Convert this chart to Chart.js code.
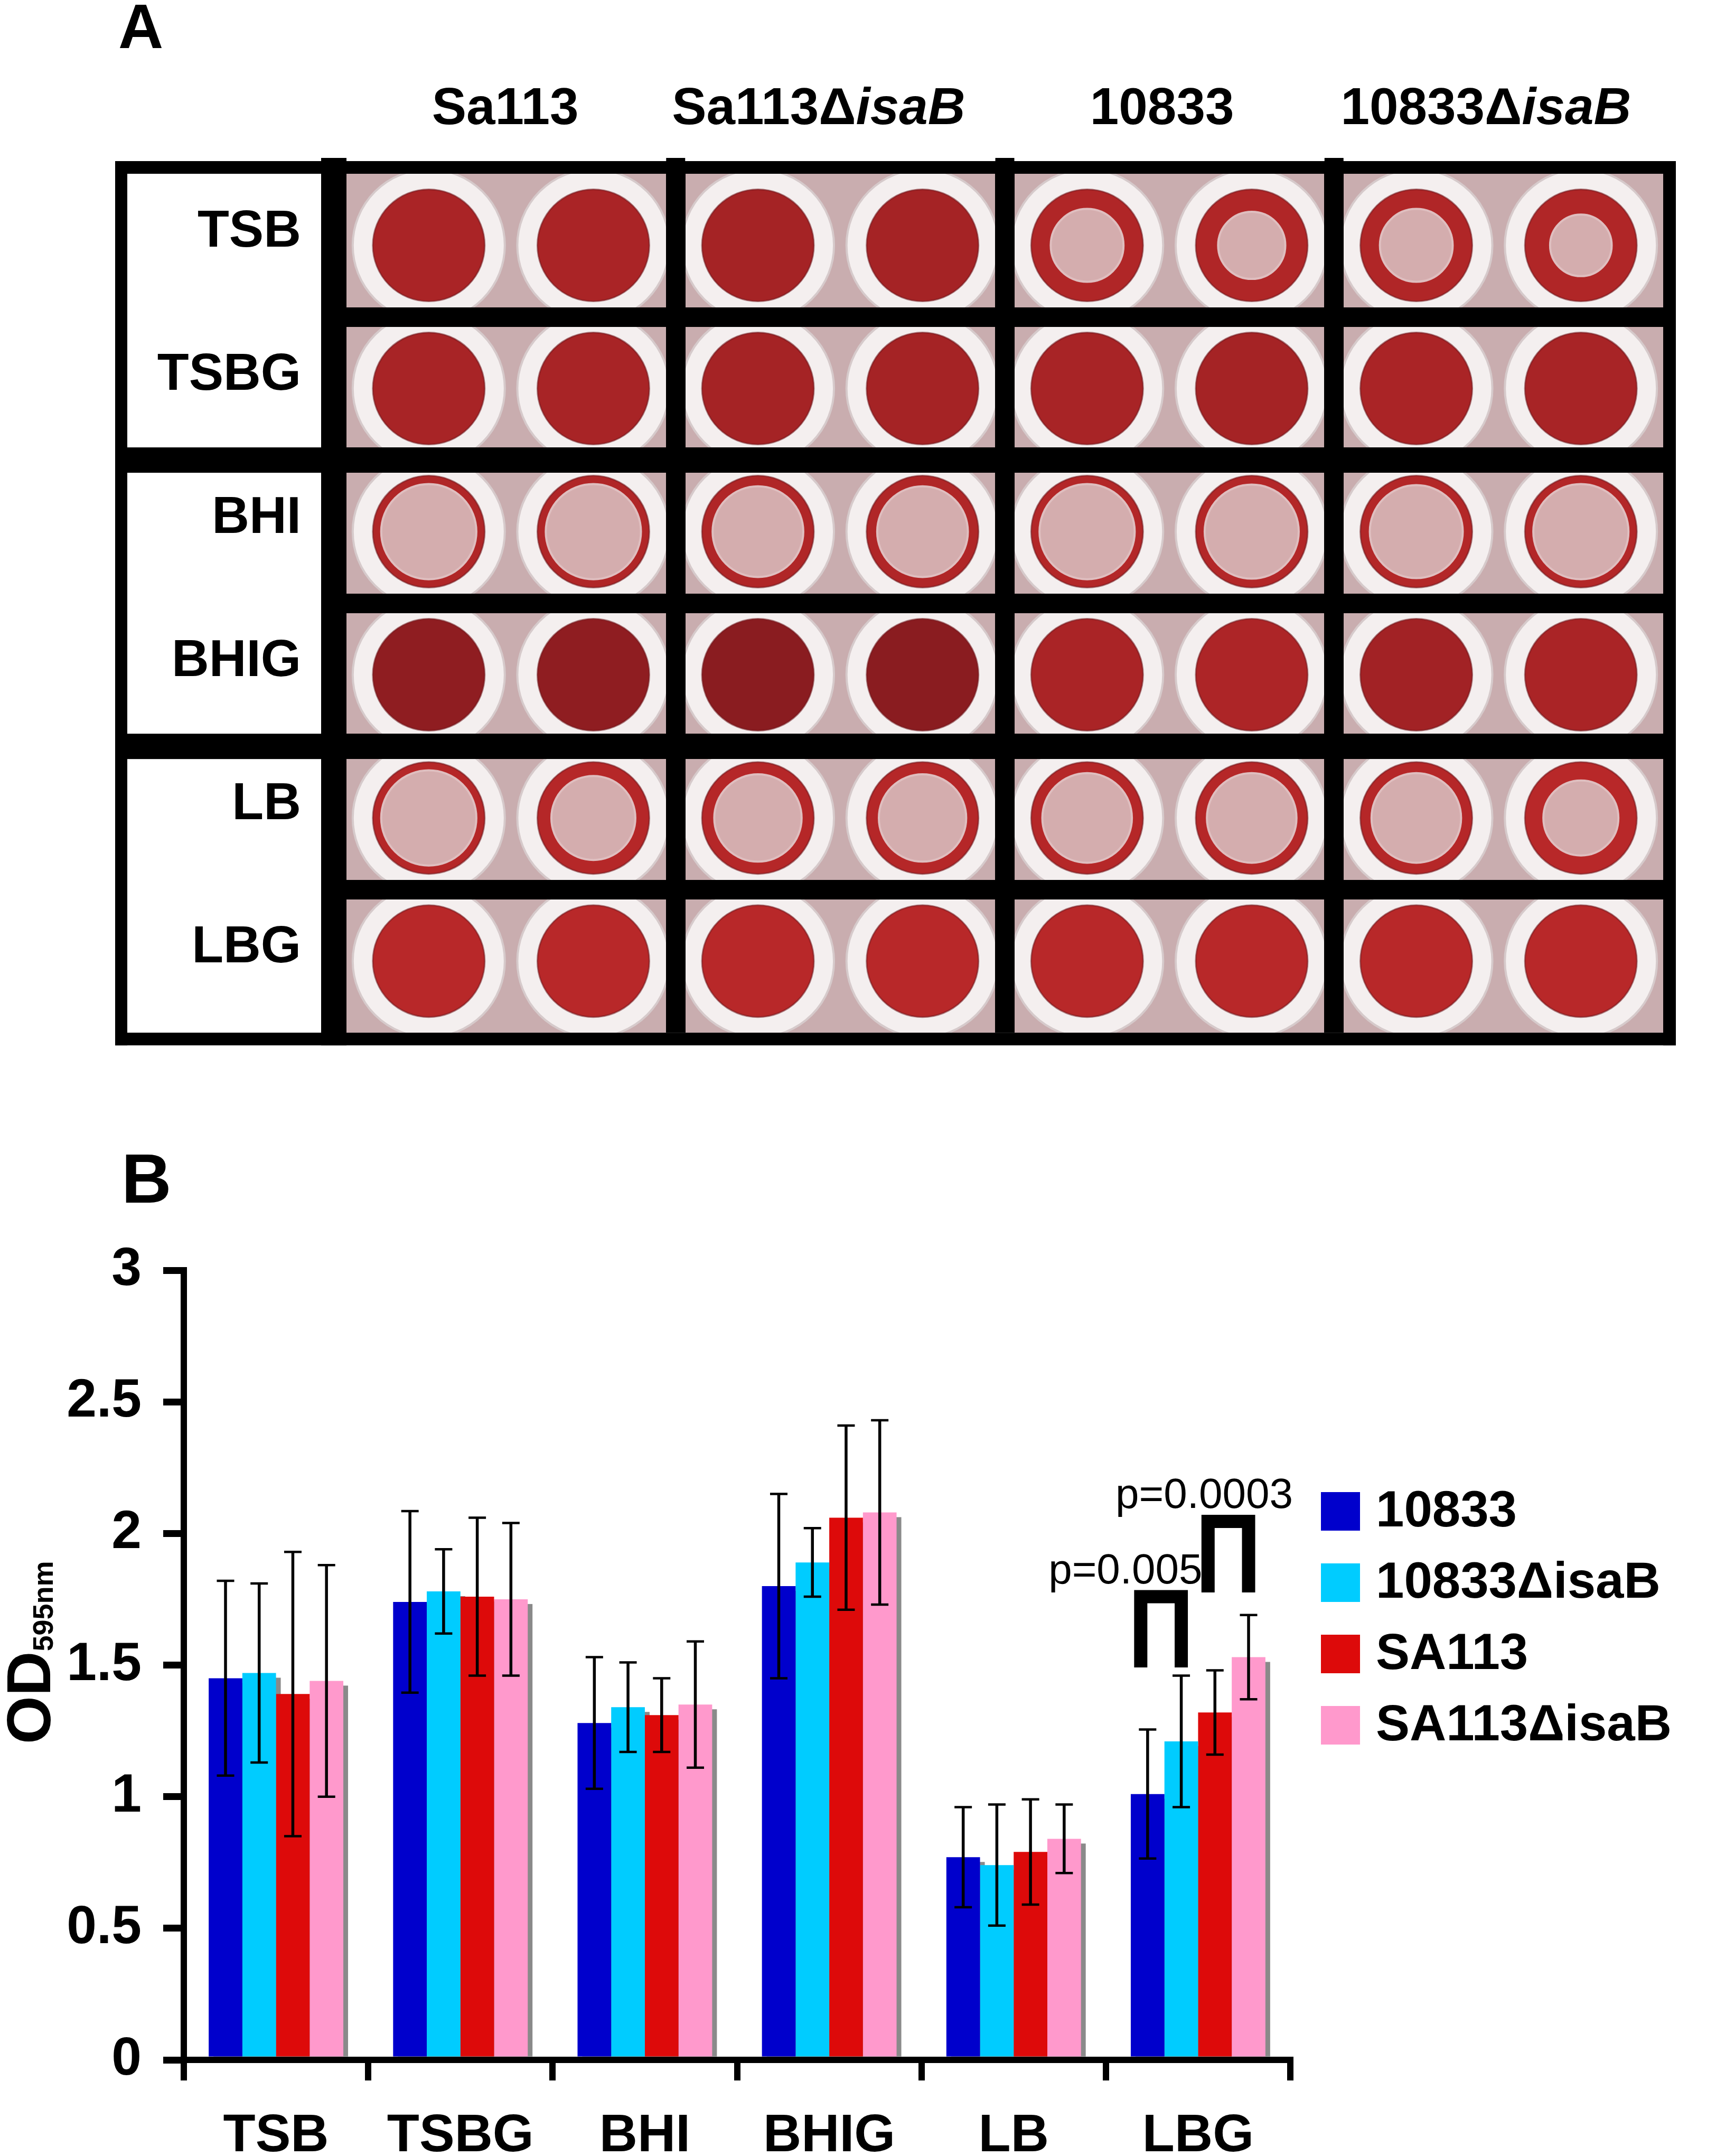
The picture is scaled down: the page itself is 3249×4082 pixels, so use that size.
<!DOCTYPE html>
<html><head><meta charset="utf-8">
<script src="https://cdn.jsdelivr.net/npm/chart.js@4.4.1/dist/chart.umd.min.js"></script>
<style>
html,body{margin:0;padding:0;background:#fff;}
body{width:3249px;height:4082px;position:relative;overflow:hidden;}
#cA{position:absolute;left:0;top:0;}
#cB{position:absolute;left:0;top:2150px;}
</style></head><body>
<canvas id="cA" width="3249" height="2100"></canvas>
<canvas id="cB" width="3249" height="1932"></canvas>
<script>
// ---------------- DATA ----------------
// Panel A: crystal-violet stained wells (2 wells per strain)
const media = ['TSB', 'TSBG', 'BHI', 'BHIG', 'LB', 'LBG'];
const strainsA = ['Sa113', 'Sa113\u0394isaB', '10833', '10833\u0394isaB'];
// fraction of the well radius covered by biofilm (1 = fully stained, small = ring only)
const coverage = [
  [1, 1, 1, 1, 0.35, 0.40, 0.35, 0.45],
  [1, 1, 1, 1, 1, 1, 1, 1],
  [0.15, 0.15, 0.19, 0.19, 0.15, 0.16, 0.17, 0.15],
  [1, 1, 1, 1, 1, 1, 1, 1],
  [0.15, 0.25, 0.22, 0.22, 0.20, 0.20, 0.20, 0.33],
  [1, 1, 1, 1, 1, 1, 1, 1]
];
// staining darkness (0 = bright red, 1 = dark red)
const darkness = [
  [0.40, 0.40, 0.50, 0.50, 0.30, 0.30, 0.30, 0.30],
  [0.45, 0.45, 0.50, 0.50, 0.45, 0.50, 0.40, 0.45],
  [0.30, 0.30, 0.30, 0.30, 0.25, 0.25, 0.25, 0.25],
  [0.90, 0.90, 1.00, 1.00, 0.40, 0.35, 0.55, 0.40],
  [0.20, 0.20, 0.20, 0.20, 0.20, 0.20, 0.20, 0.15],
  [0.15, 0.15, 0.15, 0.15, 0.15, 0.15, 0.15, 0.15]
];

// Panel B: OD595nm
const categories = ['TSB', 'TSBG', 'BHI', 'BHIG', 'LB', 'LBG'];
const seriesNames = ['10833', '10833\u0394isaB', 'SA113', 'SA113\u0394isaB'];
const od10833      = [1.45, 1.74, 1.28, 1.80, 0.77, 1.01];
const od10833isaB  = [1.47, 1.78, 1.34, 1.89, 0.74, 1.21];
const odSA113      = [1.39, 1.76, 1.31, 2.06, 0.79, 1.32];
const odSA113isaB  = [1.44, 1.75, 1.35, 2.08, 0.84, 1.53];
const sd10833      = [0.37, 0.345, 0.25, 0.35, 0.19, 0.245];
const sd10833isaB  = [0.34, 0.16, 0.17, 0.13, 0.23, 0.25];
const sdSA113      = [0.54, 0.30, 0.14, 0.35, 0.20, 0.16];
const sdSA113isaB  = [0.44, 0.29, 0.24, 0.35, 0.13, 0.16];
const yTicks = [0, 0.5, 1, 1.5, 2, 2.5, 3];
// significance brackets (LBG)
const sigCategory = 'LBG';
const sigPairs = [[0, 1], [2, 3]];
const sigLabels = ['p=0.005', 'p=0.0003'];
const sigTop = [1.76, 2.046];
const sigFoot = [1.491, 1.776];

// ---------------- STYLE ----------------
const FONT = '"Liberation Sans", Arial, Helvetica, sans-serif';
const seriesColors = ['#0000cc', '#00ccff', '#dd0a0a', '#ff99cc'];
const headerShift = [-11, -41, -14, -24];
const BRIGHT = [192, 42, 42], DARK = [138, 28, 32];
function redTone(t) {
  const c = BRIGHT.map((b, i) => Math.round(b + (DARK[i] - b) * t));
  return 'rgb(' + c.join(',') + ')';
}

// ================= PANEL A =================
function makeWells() {
  const out = [];
  media.forEach((m, r) => {
    for (let w = 0; w < 8; w++) out.push({x: w + 0.5, y: m, cov: coverage[r][w], dk: darkness[r][w]});
  });
  return out;
}
const paleR = c => (c.raw && c.raw.cov < 1) ? 106 * (1 - c.raw.cov) : 0;

const panelAPlugin = {
  id: 'panelA',
  beforeDatasetsDraw(chart) {
    const {ctx, chartArea: ca} = chart;
    ctx.save();
    ctx.fillStyle = '#c9adaf';
    ctx.fillRect(ca.left, ca.top, ca.right - ca.left, ca.bottom - ca.top);
    ctx.restore();
  },
  afterDraw(chart) {
    const {ctx, chartArea: ca} = chart;
    const ys = chart.scales.y, xs = chart.scales.x;
    ctx.save();
    ctx.fillStyle = '#000';
    const L = ca.left - 438, T = ca.top - 24, R = ca.right + 24, B = ca.bottom + 24;
    ctx.fillRect(L, T, R - L, 24);
    ctx.fillRect(L, B - 24, R - L, 24);
    ctx.fillRect(L, T, 23, B - T);
    ctx.fillRect(R - 24, T, 24, B - T);
    ctx.fillRect(ca.left - 48, T - 6, 48, B - T + 6);
    [2, 4, 6].forEach(v => {
      const x = xs.getPixelForValue(v);
      ctx.fillRect(x - 18, T - 6, 36, 6);
    });
    [2, 4].forEach(k => {
      const y = ys.getPixelForValue(k - 0.5);
      ctx.fillRect(L, y - 24, ca.left - L, 48);
    });
    // strain headers
    ctx.textBaseline = 'alphabetic';
    ctx.textAlign = 'left';
    strainsA.forEach((name, i) => {
      const cx = xs.getPixelForValue(2 * i + 1) + headerShift[i];
      const k = name.indexOf('\u0394');
      const plain = k >= 0 ? name.slice(0, k + 1) : name;
      const ital = k >= 0 ? name.slice(k + 1) : '';
      ctx.font = 'bold 98px ' + FONT;
      const w1 = ctx.measureText(plain).width;
      ctx.font = 'italic bold 98px ' + FONT;
      const w2 = ital ? ctx.measureText(ital).width : 0;
      const x0 = cx - (w1 + w2) / 2;
      ctx.font = 'bold 98px ' + FONT;
      ctx.fillText(plain, x0, 235);
      if (ital) { ctx.font = 'italic bold 98px ' + FONT; ctx.fillText(ital, x0 + w1, 235); }
    });
    ctx.font = 'bold 118px ' + FONT;
    ctx.fillText('A', 224, 91);
    ctx.restore();
  }
};

// Chart.js draws dataset 0 on top, so the list goes from the innermost layer out
new Chart(document.getElementById('cA'), {
  type: 'scatter',
  data: {
    datasets: [
      {label: 'cleared centre', data: makeWells(), clip: 0,
       pointRadius: paleR, pointHoverRadius: paleR,
       backgroundColor: '#d4adae', borderColor: '#dfbebf', borderWidth: 4},
      {label: 'biofilm stain', data: makeWells(), clip: 0, pointRadius: 106, pointHoverRadius: 106,
       backgroundColor: c => redTone(c.raw ? c.raw.dk : 0.3), borderColor: 'rgba(110,20,25,0.55)', borderWidth: 3},
      {label: 'well rim', data: makeWells(), clip: 0, pointRadius: 144, pointHoverRadius: 144,
       backgroundColor: '#f4efef', borderColor: '#d6cacb', borderWidth: 4}
    ]
  },
  options: {
    responsive: false, animation: false, devicePixelRatio: 1,
    events: [],
    layout: {autoPadding: false, padding: {top: 329, right: 100, bottom: 136, left: 0}},
    plugins: {legend: {display: false}, tooltip: {enabled: false}},
    scales: {
      x: {
        type: 'linear', position: 'top', min: 0, max: 8,
        afterBuildTicks: s => { s.ticks = [0,1,2,3,4,5,6,7,8].map(v => ({value: v})); },
        afterFit: s => { s.height = 0; },
        ticks: {display: false},
        border: {display: false},
        grid: {
          z: 1, drawTicks: false, lineWidth: 37,
          color: c => (c.tick && [2, 4, 6].includes(c.tick.value)) ? '#000' : 'rgba(0,0,0,0)'
        }
      },
      y: {
        type: 'category', labels: media, offset: true, position: 'left',
        afterFit: s => { s.width = 656; },
        border: {display: false},
        ticks: {color: '#000', font: {family: FONT, size: 98, weight: 'bold'}, padding: 86, labelOffset: -25},
        grid: {
          z: 1, offset: true, drawTicks: false,
          lineWidth: c => (c.index === 2 || c.index === 4) ? 48 : 37,
          color: c => (c.index >= 1 && c.index <= 5) ? '#000' : 'rgba(0,0,0,0)'
        }
      }
    }
  },
  plugins: [panelAPlugin]
});

// ================= PANEL B =================
const means = [od10833, od10833isaB, odSA113, odSA113isaB];
const sds = [sd10833, sd10833isaB, sdSA113, sdSA113isaB];

const panelBPlugin = {
  id: 'panelB',
  beforeDatasetsDraw(chart) {
    const ctx = chart.ctx;
    ctx.save();
    ctx.fillStyle = '#8a8a8a';
    chart.data.datasets.forEach((ds, i) => {
      chart.getDatasetMeta(i).data.forEach(bar => {
        const p = bar.getProps(['x', 'y', 'width', 'base'], true);
        const top = p.y + 9;
        if (top < p.base) ctx.fillRect(p.x - p.width / 2 + 9, top, p.width, p.base - top);
      });
    });
    ctx.restore();
  },
  afterDatasetsDraw(chart) {
    const ctx = chart.ctx, ys = chart.scales.y;
    ctx.save();
    ctx.strokeStyle = '#000';
    // error bars
    chart.data.datasets.forEach((ds, i) => {
      chart.getDatasetMeta(i).data.forEach((bar, j) => {
        const x = bar.x;
        const hi = ys.getPixelForValue(means[i][j] + sds[i][j]);
        const lo = ys.getPixelForValue(means[i][j] - sds[i][j]);
        ctx.lineWidth = 5.5;
        ctx.beginPath(); ctx.moveTo(x, hi); ctx.lineTo(x, lo); ctx.stroke();
        ctx.lineWidth = 4.5;
        ctx.beginPath();
        ctx.moveTo(x - 16.5, hi); ctx.lineTo(x + 16.5, hi);
        ctx.moveTo(x - 16.5, lo); ctx.lineTo(x + 16.5, lo);
        ctx.stroke();
      });
    });
    // significance brackets
    const ci = categories.indexOf(sigCategory);
    const textDx = [40, 84];
    sigPairs.forEach((pair, k) => {
      const b0 = chart.getDatasetMeta(pair[0]).data[ci];
      const b1 = chart.getDatasetMeta(pair[1]).data[ci];
      const xl = b0.x - 13, xr = b1.x;
      const yt = ys.getPixelForValue(sigTop[k]);
      const yb = ys.getPixelForValue(sigFoot[k]);
      ctx.lineWidth = 25; ctx.lineJoin = 'miter'; ctx.lineCap = 'butt';
      ctx.beginPath();
      ctx.moveTo(xl, yb); ctx.lineTo(xl, yt); ctx.lineTo(xr, yt); ctx.lineTo(xr, yb);
      ctx.stroke();
      ctx.fillStyle = '#000';
      ctx.font = '80px ' + FONT;
      ctx.textAlign = 'right'; ctx.textBaseline = 'alphabetic';
      ctx.fillText(sigLabels[k], xr + textDx[k], yt - 25);
    });
    ctx.restore();
  },
  afterDraw(chart) {
    const {ctx, chartArea: ca} = chart;
    ctx.save();
    // legend
    const lx = ca.right + 58;
    chart.data.datasets.forEach((ds, i) => {
      const top = ca.top + 420 + i * 135;
      ctx.fillStyle = ds.backgroundColor;
      ctx.fillRect(lx, top, 74, 73);
      ctx.fillStyle = '#000';
      ctx.font = 'bold 96px ' + FONT;
      ctx.textAlign = 'left'; ctx.textBaseline = 'alphabetic';
      ctx.fillText(ds.label, lx + 104, top + 65);
    });
    // y title OD595nm
    ctx.translate(95, ca.bottom - 598);
    ctx.rotate(-Math.PI / 2);
    ctx.font = 'bold 117px ' + FONT;
    ctx.fillText('OD', 0, 0);
    const w = ctx.measureText('OD').width;
    ctx.font = 'bold 54px ' + FONT;
    ctx.fillText('595nm', w, 5);
    ctx.setTransform(1, 0, 0, 1, 0, 0);
    ctx.font = 'bold 131px ' + FONT;
    ctx.fillText('B', 230, 127);
    ctx.restore();
  }
};

new Chart(document.getElementById('cB'), {
  type: 'bar',
  data: {
    labels: categories,
    datasets: seriesNames.map((n, i) => ({
      label: n, data: means[i], backgroundColor: seriesColors[i], borderWidth: 0,
      barPercentage: 1.0, categoryPercentage: 0.73
    }))
  },
  options: {
    responsive: false, animation: false, devicePixelRatio: 1,
    events: [],
    layout: {autoPadding: false, padding: {top: 255, right: 806, bottom: 0, left: 0}},
    plugins: {legend: {display: false}, tooltip: {enabled: false}},
    scales: {
      x: {
        type: 'category', offset: true,
        afterFit: s => { s.height = 182; },
        grid: {offset: true, drawOnChartArea: false, color: '#000', lineWidth: 12, tickLength: 39, z: 1},
        border: {color: '#000', width: 12, z: 1},
        ticks: {color: '#000', font: {family: FONT, size: 100, weight: 'bold'}, padding: 46, maxRotation: 0, autoSkip: false}
      },
      y: {
        min: 0, max: 3,
        afterBuildTicks: s => { s.ticks = yTicks.map(v => ({value: v})); },
        afterFit: s => { s.width = 348; },
        grid: {drawOnChartArea: false, color: '#000', lineWidth: 13, tickLength: 39, z: 1},
        border: {color: '#000', width: 12, z: 1},
        ticks: {color: '#000', font: {family: FONT, size: 102, weight: 'bold'}, padding: 41,
                callback: v => String(v)}
      }
    }
  },
  plugins: [panelBPlugin]
});
</script>
</body></html>
